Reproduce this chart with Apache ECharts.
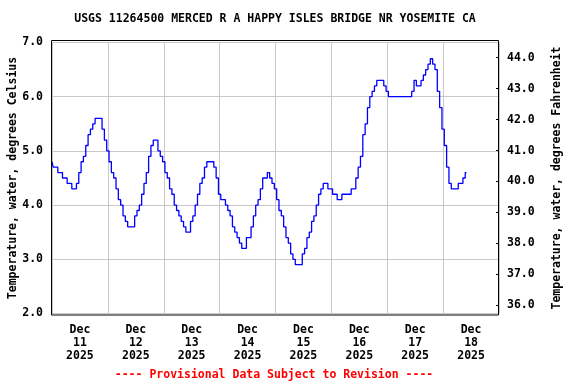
<!DOCTYPE html>
<html>
<head>
<meta charset="utf-8">
<script src="https://cdn.jsdelivr.net/npm/echarts@6/dist/echarts.min.js"></script>
<style>
  html, body { margin: 0; padding: 0; background: #fff; }
  #chart { width: 576px; height: 384px; }
</style>
</head>
<body>
<div id="chart"></div>
<script>
// Hourly water temperature (deg C), starting Dec 11 2025 00:00
const tempC = [
  4.8,4.7,4.7,4.6,4.6,4.5,4.5,4.4,4.4,4.3,4.3,4.4,
  4.6,4.8,4.9,5.1,5.3,5.4,5.5,5.6,5.6,5.6,5.4,5.2,
  5.0,4.8,4.6,4.5,4.3,4.1,4.0,3.8,3.7,3.6,3.6,3.6,
  3.8,3.9,4.0,4.2,4.4,4.6,4.9,5.1,5.2,5.2,5.0,4.9,
  4.8,4.6,4.5,4.3,4.2,4.0,3.9,3.8,3.7,3.6,3.5,3.5,
  3.7,3.8,4.0,4.2,4.4,4.5,4.7,4.8,4.8,4.8,4.7,4.5,
  4.2,4.1,4.1,4.0,3.9,3.8,3.6,3.5,3.4,3.3,3.2,3.2,
  3.4,3.4,3.6,3.8,4.0,4.1,4.3,4.5,4.5,4.6,4.5,4.4,
  4.3,4.1,3.9,3.8,3.6,3.4,3.3,3.1,3.0,2.9,2.9,2.9,
  3.1,3.2,3.4,3.5,3.7,3.8,4.0,4.2,4.3,4.4,4.4,4.3,
  4.3,4.2,4.2,4.1,4.1,4.2,4.2,4.2,4.2,4.3,4.3,4.5,
  4.7,4.9,5.3,5.5,5.8,6.0,6.1,6.2,6.3,6.3,6.3,6.2,
  6.1,6.0,6.0,6.0,6.0,6.0,6.0,6.0,6.0,6.0,6.0,6.1,
  6.3,6.2,6.2,6.3,6.4,6.5,6.6,6.7,6.6,6.5,6.1,5.8,
  5.4,5.1,4.7,4.4,4.3,4.3,4.3,4.4,4.4,4.5,4.6
];
// x-axis date labels (placed at noon of each day, hours from Dec 11 00:00)
const dayLabelHours = [12, 36, 60, 84, 108, 132, 156, 180];
const dayLabels = [
  'Dec\n11\n2025','Dec\n12\n2025','Dec\n13\n2025','Dec\n14\n2025',
  'Dec\n15\n2025','Dec\n16\n2025','Dec\n17\n2025','Dec\n18\n2025'
];
const celsiusTicks = [2, 3, 4, 5, 6, 7];
const fahrenheitTicks = [36, 37, 38, 39, 40, 41, 42, 43, 44];

const titleText = 'USGS 11264500 MERCED R A HAPPY ISLES BRIDGE NR YOSEMITE CA';
const footerText = '---- Provisional Data Subject to Revision ----';

const FONT = '"DejaVu Sans Mono", "Liberation Mono", monospace';
const seriesData = tempC.map((v, i) => [i, v]);

const chart = echarts.init(document.getElementById('chart'), null, { renderer: 'canvas' });
chart.setOption({
  animation: false,
  backgroundColor: '#ffffff',
  grid: { left: 52, right: 77, top: 42.5, bottom: 70.5, containLabel: false, outerBoundsMode: 'none' },
  xAxis: {
    type: 'value',
    min: 0,
    max: 192,
    interval: 24,
    axisLine: { show: false },
    axisTick: { show: false },
    splitLine: { show: true, lineStyle: { color: '#c8c8c8', width: 1 } },
    axisLabel: {
      customValues: dayLabelHours,
      formatter: (v) => dayLabels[dayLabelHours.indexOf(v)] || '',
      fontFamily: FONT, fontSize: 11.5, fontWeight: 'bold', color: '#000',
      lineHeight: 13, margin: 10
    }
  },
  yAxis: [
    {
      type: 'value',
      position: 'left',
      min: 2, max: 7, interval: 1,
      name: 'Temperature, water, degrees Celsius',
      nameLocation: 'middle',
      nameGap: 33,
      nameMoveOverlap: false,
      nameTextStyle: { fontFamily: FONT, fontSize: 11.5, fontWeight: 'bold', color: '#000' },
      axisLine: { show: false },
      axisTick: { show: false },
      splitLine: { show: true, lineStyle: { color: '#c8c8c8', width: 1 } },
      axisLabel: {
        formatter: (v) => v.toFixed(1),
        fontFamily: FONT, fontSize: 11.5, fontWeight: 'bold', color: '#000', margin: 9
      }
    },
    {
      type: 'value',
      position: 'right',
      min: 35.735, max: 44.491,
      name: 'Temperature, water, degrees Fahrenheit',
      nameLocation: 'middle',
      nameRotate: 90,
      nameGap: 52,
      nameMoveOverlap: false,
      nameTextStyle: { fontFamily: FONT, fontSize: 11.5, fontWeight: 'bold', color: '#000' },
      axisLine: { show: false },
      axisTick: { show: true, inside: true, length: 3, customValues: fahrenheitTicks, lineStyle: { color: '#000' } },
      splitLine: { show: false },
      axisLabel: {
        customValues: fahrenheitTicks,
        formatter: (v) => v.toFixed(1),
        fontFamily: FONT, fontSize: 11.5, fontWeight: 'bold', color: '#000', margin: 8
      }
    }
  ],
  series: [{
    type: 'line',
    yAxisIndex: 0,
    data: seriesData,
    step: 'middle',
    symbol: 'none',
    lineStyle: { color: '#0000ff', width: 1.3 },
    z: 5
  }],
  graphic: [
    {
      type: 'rect', silent: true, z: 100,
      shape: { x: 51.5, y: 40.5, width: 447, height: 274.5 },
      style: { fill: null, stroke: '#000', lineWidth: 1 }
    },
    {
      type: 'text', silent: true,
      x: 275, y: 19,
      style: { text: titleText, fill: '#000', font: 'bold 11.5px ' + FONT, textAlign: 'center', textVerticalAlign: 'middle' }
    },
    {
      type: 'text', silent: true,
      x: 274, y: 375,
      style: { text: footerText, fill: '#ff0000', font: 'bold 11.5px ' + FONT, textAlign: 'center', textVerticalAlign: 'middle' }
    }
  ]
});
</script>
</body>
</html>
